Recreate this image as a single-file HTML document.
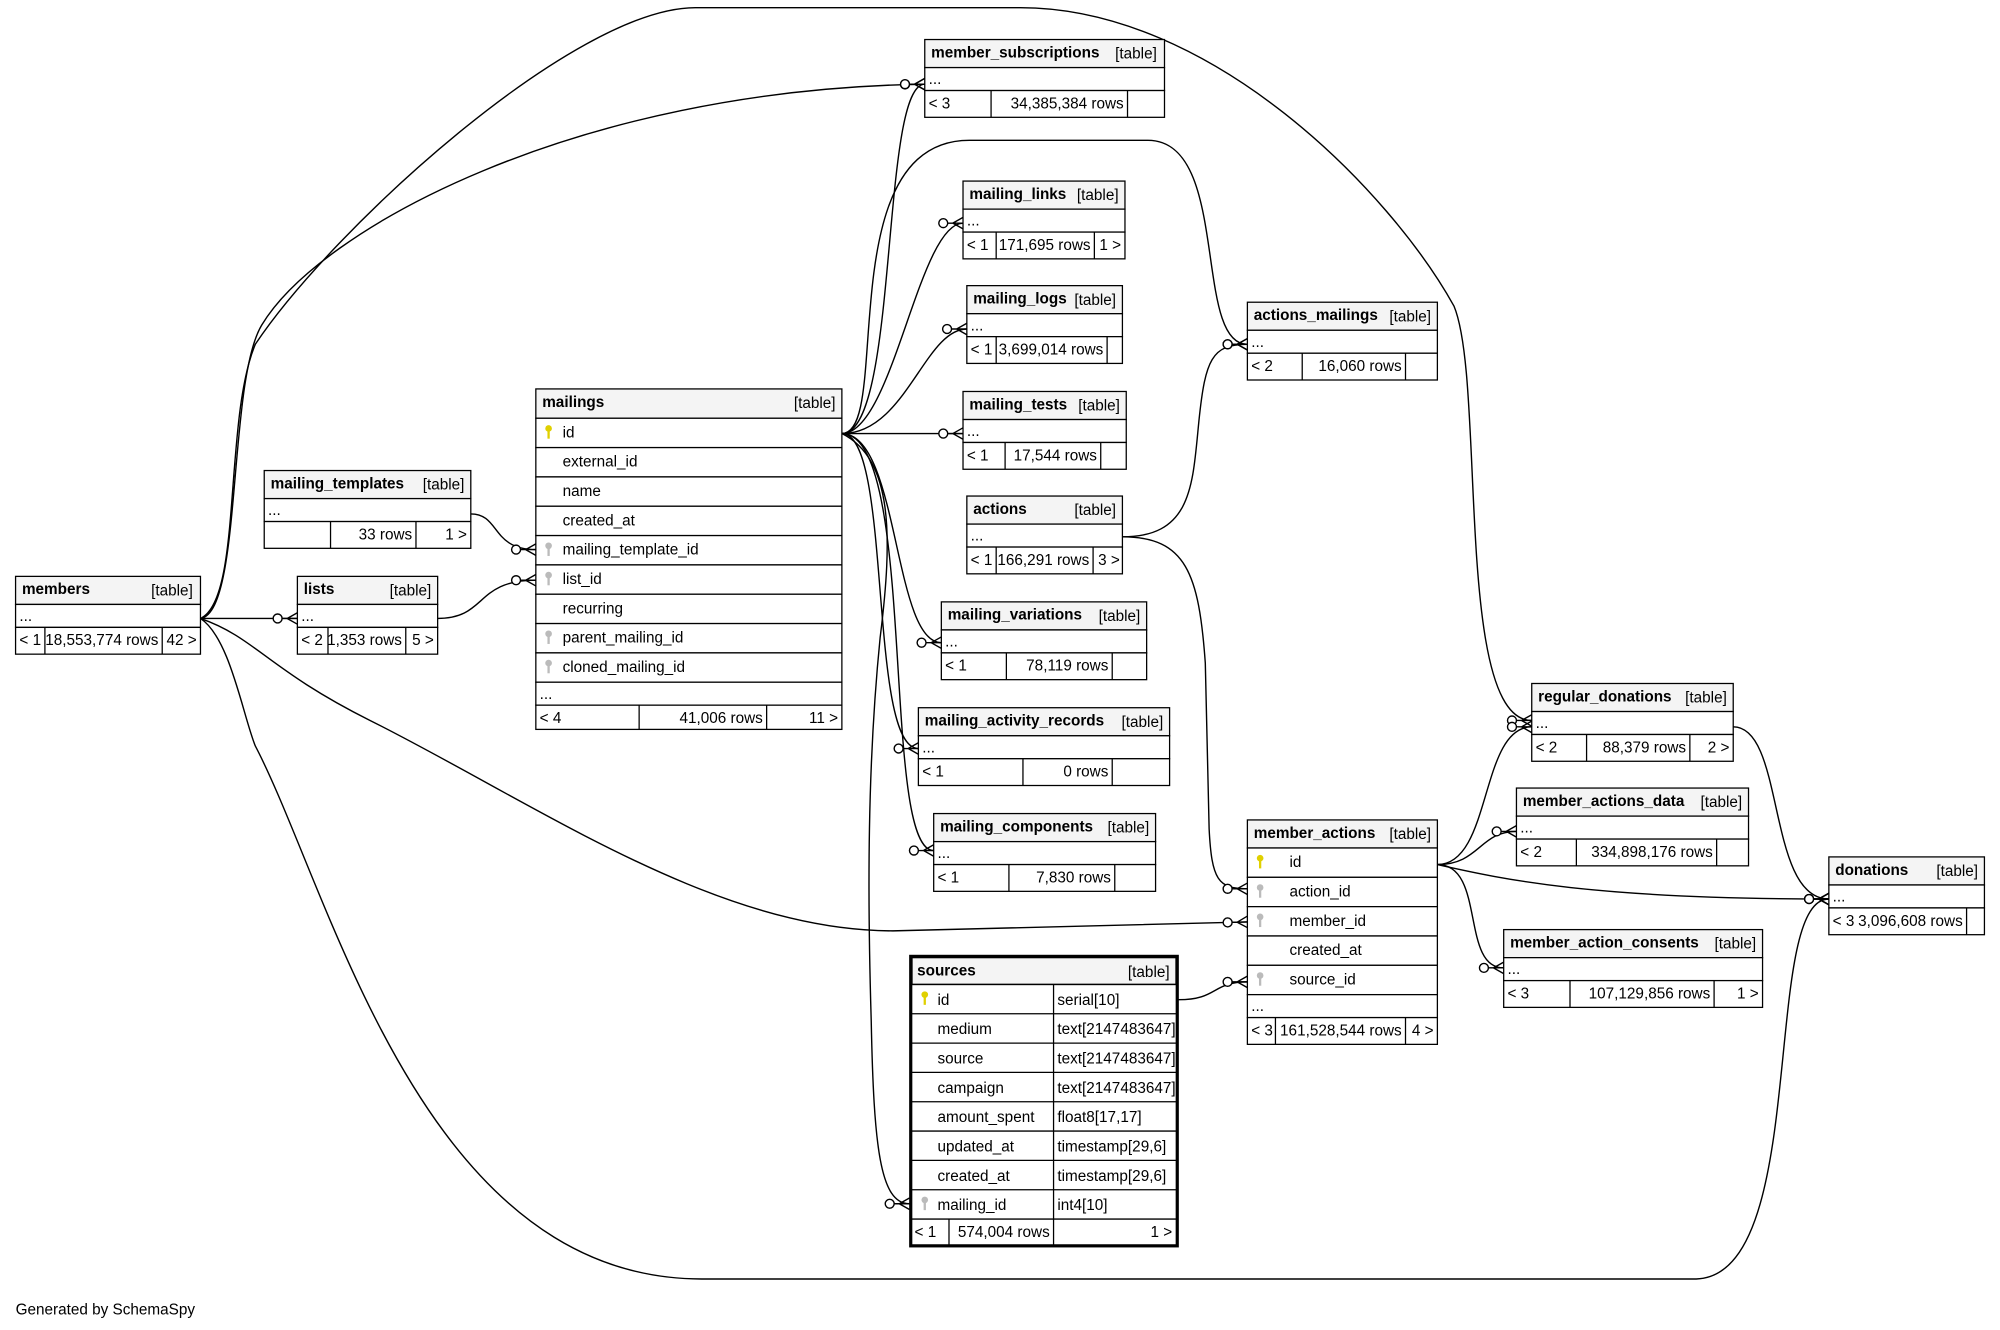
<!DOCTYPE html>
<html><head><meta charset="utf-8"><style>
html,body{margin:0;padding:0;background:#fff}
svg{display:block}
text{font-family:"Liberation Sans",sans-serif;font-size:12px;fill:#000}
.b{font-weight:bold}
.t{fill:#fff;stroke:#000;stroke-width:1}
.h{fill:#f4f4f4;stroke:#000;stroke-width:1}
.e{fill:none;stroke:#000;stroke-width:1.1}
</style></head><body>
<svg width="2000" height="1330" viewBox="0 0 1568 1043" xmlns="http://www.w3.org/2000/svg">
<defs>
<marker id="cf" markerUnits="userSpaceOnUse" markerWidth="24" markerHeight="14" refX="20" refY="7" orient="auto" overflow="visible">
<path d="M8,7 L20,7 M12,7 L20,2.5 M12,7 L20,11.5" fill="none" stroke="#000" stroke-width="1.1"/>
<circle cx="4.5" cy="7" r="3.5" fill="#fff" stroke="#000" stroke-width="1.1"/>
</marker>
<g id="pk"><circle cx="0" cy="0" r="2.6" fill="#e0d000"/><rect x="-0.9" y="0" width="1.8" height="8" fill="#e0d000"/></g>
<g id="fk"><circle cx="0" cy="0" r="2.6" fill="#bbb"/><rect x="-0.9" y="0" width="1.8" height="8" fill="#bbb"/></g>
</defs>

<!-- edges -->
<g class="e">
<path d="M157,485 C190,480 178,300 205,255 C250,180 450,70 725,66" marker-end="url(#cf)"/>
<path d="M157,485 C190,470 175,330 200,270 C260,180 450,6 545,6 L800,6 C950,6 1090,150 1140,240 C1165,300 1140,565 1201,565" marker-end="url(#cf)"/>
<path d="M157,485 L233,485" marker-end="url(#cf)"/>
<path d="M157,485 C200,500 210,525 290,565 C420,630 560,730 700,730 L978,723" marker-end="url(#cf)"/>
<path d="M157,485 C180,500 190,560 200,585 C260,700 330,1003 550,1003 L1330,1003 C1420,1000 1380,705 1434,705" marker-end="url(#cf)"/>
<path d="M369,403 C392,403 385,431 420,431" marker-end="url(#cf)"/>
<path d="M343,485 C382,485 372,455 420,455" marker-end="url(#cf)"/>
<path d="M660,340 C705,340 690,66 725,66" marker-end="url(#cf)"/>
<path d="M660,340 C700,340 720,175 755,175" marker-end="url(#cf)"/>
<path d="M660,340 C710,340 725,258 758,258" marker-end="url(#cf)"/>
<path d="M660,340 L755,340" marker-end="url(#cf)"/>
<path d="M660,340 C705,340 700,504 738,504" marker-end="url(#cf)"/>
<path d="M660,340 C700,340 680,587 720,587" marker-end="url(#cf)"/>
<path d="M660,340 C720,340 690,667 732,667" marker-end="url(#cf)"/>
<path d="M660,340 C700,360 700,420 690,500 C680,600 680,700 683,800 C685,900 690,944 713,944" marker-end="url(#cf)"/>
<path d="M660,340 C700,340 650,110 760,110 L900,110 C965,110 935,270 978,270" marker-end="url(#cf)"/>
<path d="M880,421 C935,421 935,380 940,330 C945,282 950,270 978,270" marker-end="url(#cf)"/>
<path d="M880,421 C930,421 940,450 945,520 L948,650 C950,690 955,697 978,697" marker-end="url(#cf)"/>
<path d="M924,784 C955,784 950,770 978,770" marker-end="url(#cf)"/>
<path d="M1127,678 C1170,678 1160,570 1201,570" marker-end="url(#cf)"/>
<path d="M1127,678 C1160,678 1160,652 1189,652" marker-end="url(#cf)"/>
<path d="M1127,678 C1165,678 1145,759 1179,759" marker-end="url(#cf)"/>
<path d="M1127,678 C1180,690 1250,705 1434,705" marker-end="url(#cf)"/>
<path d="M1359,570 C1400,570 1385,705 1434,705" marker-end="url(#cf)"/>
</g>

<!-- generic small tables -->
<!-- member_subscriptions -->
<g><rect class="h" x="725" y="31" width="188" height="22"/><rect class="t" x="725" y="53" width="188" height="18"/><rect class="t" x="725" y="71" width="188" height="21"/>
<line x1="777" y1="71" x2="777" y2="92" stroke="#000"/><line x1="884" y1="71" x2="884" y2="92" stroke="#000"/>
<text x="730" y="45" class="b">member_subscriptions</text><text x="907" y="46" text-anchor="end">[table]</text><text x="728" y="66">...</text>
<text x="728" y="85">&lt; 3</text><text x="881" y="85" text-anchor="end">34,385,384 rows</text></g>
<!-- mailing_links -->
<g><rect class="h" x="755" y="142" width="127" height="22"/><rect class="t" x="755" y="164" width="127" height="18"/><rect class="t" x="755" y="182" width="127" height="21"/>
<line x1="781" y1="182" x2="781" y2="203" stroke="#000"/><line x1="858" y1="182" x2="858" y2="203" stroke="#000"/>
<text x="760" y="156" class="b">mailing_links</text><text x="877" y="157" text-anchor="end">[table]</text><text x="758" y="177">...</text>
<text x="758" y="196">&lt; 1</text><text x="855" y="196" text-anchor="end">171,695 rows</text><text x="879" y="196" text-anchor="end">1 &gt;</text></g>
<!-- mailing_logs -->
<g><rect class="h" x="758" y="224" width="122" height="22"/><rect class="t" x="758" y="246" width="122" height="18"/><rect class="t" x="758" y="264" width="122" height="21"/>
<line x1="781" y1="264" x2="781" y2="285" stroke="#000"/><line x1="868" y1="264" x2="868" y2="285" stroke="#000"/>
<text x="763" y="238" class="b">mailing_logs</text><text x="875" y="239" text-anchor="end">[table]</text><text x="761" y="259">...</text>
<text x="761" y="278">&lt; 1</text><text x="865" y="278" text-anchor="end">3,699,014 rows</text></g>
<!-- mailing_tests -->
<g><rect class="h" x="755" y="307" width="128" height="22"/><rect class="t" x="755" y="329" width="128" height="18"/><rect class="t" x="755" y="347" width="128" height="21"/>
<line x1="788" y1="347" x2="788" y2="368" stroke="#000"/><line x1="863" y1="347" x2="863" y2="368" stroke="#000"/>
<text x="760" y="321" class="b">mailing_tests</text><text x="878" y="322" text-anchor="end">[table]</text><text x="758" y="342">...</text>
<text x="758" y="361">&lt; 1</text><text x="860" y="361" text-anchor="end">17,544 rows</text></g>
<!-- actions -->
<g><rect class="h" x="758" y="389" width="122" height="22"/><rect class="t" x="758" y="411" width="122" height="18"/><rect class="t" x="758" y="429" width="122" height="21"/>
<line x1="781" y1="429" x2="781" y2="450" stroke="#000"/><line x1="857" y1="429" x2="857" y2="450" stroke="#000"/>
<text x="763" y="403" class="b">actions</text><text x="875" y="404" text-anchor="end">[table]</text><text x="761" y="424">...</text>
<text x="761" y="443">&lt; 1</text><text x="854" y="443" text-anchor="end">166,291 rows</text><text x="878" y="443" text-anchor="end">3 &gt;</text></g>
<!-- mailing_variations -->
<g><rect class="h" x="738" y="472" width="161" height="22"/><rect class="t" x="738" y="494" width="161" height="18"/><rect class="t" x="738" y="512" width="161" height="21"/>
<line x1="789" y1="512" x2="789" y2="533" stroke="#000"/><line x1="872" y1="512" x2="872" y2="533" stroke="#000"/>
<text x="743" y="486" class="b">mailing_variations</text><text x="894" y="487" text-anchor="end">[table]</text><text x="741" y="507">...</text>
<text x="741" y="526">&lt; 1</text><text x="869" y="526" text-anchor="end">78,119 rows</text></g>
<!-- mailing_activity_records -->
<g><rect class="h" x="720" y="555" width="197" height="22"/><rect class="t" x="720" y="577" width="197" height="18"/><rect class="t" x="720" y="595" width="197" height="21"/>
<line x1="802" y1="595" x2="802" y2="616" stroke="#000"/><line x1="872" y1="595" x2="872" y2="616" stroke="#000"/>
<text x="725" y="569" class="b">mailing_activity_records</text><text x="912" y="570" text-anchor="end">[table]</text><text x="723" y="590">...</text>
<text x="723" y="609">&lt; 1</text><text x="869" y="609" text-anchor="end">0 rows</text></g>
<!-- mailing_components -->
<g><rect class="h" x="732" y="638" width="174" height="22"/><rect class="t" x="732" y="660" width="174" height="18"/><rect class="t" x="732" y="678" width="174" height="21"/>
<line x1="791" y1="678" x2="791" y2="699" stroke="#000"/><line x1="874" y1="678" x2="874" y2="699" stroke="#000"/>
<text x="737" y="652" class="b">mailing_components</text><text x="901" y="653" text-anchor="end">[table]</text><text x="735" y="673">...</text>
<text x="735" y="692">&lt; 1</text><text x="871" y="692" text-anchor="end">7,830 rows</text></g>
<!-- actions_mailings -->
<g><rect class="h" x="978" y="237" width="149" height="22"/><rect class="t" x="978" y="259" width="149" height="18"/><rect class="t" x="978" y="277" width="149" height="21"/>
<line x1="1021" y1="277" x2="1021" y2="298" stroke="#000"/><line x1="1102" y1="277" x2="1102" y2="298" stroke="#000"/>
<text x="983" y="251" class="b">actions_mailings</text><text x="1122" y="252" text-anchor="end">[table]</text><text x="981" y="272">...</text>
<text x="981" y="291">&lt; 2</text><text x="1099" y="291" text-anchor="end">16,060 rows</text></g>
<!-- regular_donations -->
<g><rect class="h" x="1201" y="536" width="158" height="22"/><rect class="t" x="1201" y="558" width="158" height="18"/><rect class="t" x="1201" y="576" width="158" height="21"/>
<line x1="1244" y1="576" x2="1244" y2="597" stroke="#000"/><line x1="1325" y1="576" x2="1325" y2="597" stroke="#000"/>
<text x="1206" y="550" class="b">regular_donations</text><text x="1354" y="551" text-anchor="end">[table]</text><text x="1204" y="571">...</text>
<text x="1204" y="590">&lt; 2</text><text x="1322" y="590" text-anchor="end">88,379 rows</text><text x="1356" y="590" text-anchor="end">2 &gt;</text></g>
<!-- member_actions_data -->
<g><rect class="h" x="1189" y="618" width="182" height="22"/><rect class="t" x="1189" y="640" width="182" height="18"/><rect class="t" x="1189" y="658" width="182" height="21"/>
<line x1="1236" y1="658" x2="1236" y2="679" stroke="#000"/><line x1="1346" y1="658" x2="1346" y2="679" stroke="#000"/>
<text x="1194" y="632" class="b">member_actions_data</text><text x="1366" y="633" text-anchor="end">[table]</text><text x="1192" y="653">...</text>
<text x="1192" y="672">&lt; 2</text><text x="1343" y="672" text-anchor="end">334,898,176 rows</text></g>
<!-- member_action_consents -->
<g><rect class="h" x="1179" y="729" width="203" height="22"/><rect class="t" x="1179" y="751" width="203" height="18"/><rect class="t" x="1179" y="769" width="203" height="21"/>
<line x1="1231" y1="769" x2="1231" y2="790" stroke="#000"/><line x1="1344" y1="769" x2="1344" y2="790" stroke="#000"/>
<text x="1184" y="743" class="b">member_action_consents</text><text x="1377" y="744" text-anchor="end">[table]</text><text x="1182" y="764">...</text>
<text x="1182" y="783">&lt; 3</text><text x="1341" y="783" text-anchor="end">107,129,856 rows</text><text x="1379" y="783" text-anchor="end">1 &gt;</text></g>
<!-- donations -->
<g><rect class="h" x="1434" y="672" width="122" height="22"/><rect class="t" x="1434" y="694" width="122" height="18"/><rect class="t" x="1434" y="712" width="122" height="21"/>
<line x1="1542" y1="712" x2="1542" y2="733" stroke="#000"/>
<text x="1439" y="686" class="b">donations</text><text x="1551" y="687" text-anchor="end">[table]</text><text x="1437" y="707">...</text>
<text x="1437" y="726">&lt; 3</text><text x="1539" y="726" text-anchor="end">3,096,608 rows</text></g>
<!-- members -->
<g><rect class="h" x="12" y="452" width="145" height="22"/><rect class="t" x="12" y="474" width="145" height="18"/><rect class="t" x="12" y="492" width="145" height="21"/>
<line x1="35" y1="492" x2="35" y2="513" stroke="#000"/><line x1="127" y1="492" x2="127" y2="513" stroke="#000"/>
<text x="17" y="466" class="b">members</text><text x="151" y="467" text-anchor="end">[table]</text><text x="15" y="487">...</text>
<text x="15" y="506">&lt; 1</text><text x="124" y="506" text-anchor="end">18,553,774 rows</text><text x="154" y="506" text-anchor="end">42 &gt;</text></g>
<!-- lists -->
<g><rect class="h" x="233" y="452" width="110" height="22"/><rect class="t" x="233" y="474" width="110" height="18"/><rect class="t" x="233" y="492" width="110" height="21"/>
<line x1="257" y1="492" x2="257" y2="513" stroke="#000"/><line x1="318" y1="492" x2="318" y2="513" stroke="#000"/>
<text x="238" y="466" class="b">lists</text><text x="338" y="467" text-anchor="end">[table]</text><text x="236" y="487">...</text>
<text x="236" y="506">&lt; 2</text><text x="315" y="506" text-anchor="end">1,353 rows</text><text x="340" y="506" text-anchor="end">5 &gt;</text></g>
<!-- mailing_templates -->
<g><rect class="h" x="207" y="369" width="162" height="22"/><rect class="t" x="207" y="391" width="162" height="18"/><rect class="t" x="207" y="409" width="162" height="21"/>
<line x1="259" y1="409" x2="259" y2="430" stroke="#000"/><line x1="326" y1="409" x2="326" y2="430" stroke="#000"/>
<text x="212" y="383" class="b">mailing_templates</text><text x="364" y="384" text-anchor="end">[table]</text><text x="210" y="404">...</text>
<text x="323" y="423" text-anchor="end">33 rows</text><text x="366" y="423" text-anchor="end">1 &gt;</text></g>

<!-- mailings -->
<g>
<rect class="h" x="420" y="305" width="240" height="23"/>
<rect class="t" x="420" y="328" width="240" height="23"/><rect class="t" x="420" y="351" width="240" height="23"/>
<rect class="t" x="420" y="374" width="240" height="23"/><rect class="t" x="420" y="397" width="240" height="23"/>
<rect class="t" x="420" y="420" width="240" height="23"/><rect class="t" x="420" y="443" width="240" height="23"/>
<rect class="t" x="420" y="466" width="240" height="23"/><rect class="t" x="420" y="489" width="240" height="23"/>
<rect class="t" x="420" y="512" width="240" height="23"/><rect class="t" x="420" y="535" width="240" height="18"/>
<rect class="t" x="420" y="553" width="240" height="19"/>
<line x1="501" y1="553" x2="501" y2="572" stroke="#000"/><line x1="601" y1="553" x2="601" y2="572" stroke="#000"/>
<text x="425" y="319" class="b">mailings</text><text x="655" y="320" text-anchor="end">[table]</text>
<use href="#pk" x="430" y="336"/><text x="441" y="343">id</text>
<text x="441" y="366">external_id</text><text x="441" y="389">name</text><text x="441" y="412">created_at</text>
<use href="#fk" x="430" y="428"/><text x="441" y="435">mailing_template_id</text>
<use href="#fk" x="430" y="451"/><text x="441" y="458">list_id</text>
<text x="441" y="481">recurring</text>
<use href="#fk" x="430" y="497"/><text x="441" y="504">parent_mailing_id</text>
<use href="#fk" x="430" y="520"/><text x="441" y="527">cloned_mailing_id</text>
<text x="423" y="548">...</text>
<text x="423" y="567">&lt; 4</text><text x="598" y="567" text-anchor="end">41,006 rows</text><text x="657" y="567" text-anchor="end">11 &gt;</text>
</g>

<!-- member_actions -->
<g>
<rect class="h" x="978" y="643" width="149" height="22"/>
<rect class="t" x="978" y="665" width="149" height="23"/><rect class="t" x="978" y="688" width="149" height="23"/>
<rect class="t" x="978" y="711" width="149" height="23"/><rect class="t" x="978" y="734" width="149" height="23"/>
<rect class="t" x="978" y="757" width="149" height="23"/><rect class="t" x="978" y="780" width="149" height="18"/>
<rect class="t" x="978" y="798" width="149" height="21"/>
<line x1="1000" y1="798" x2="1000" y2="819" stroke="#000"/><line x1="1102" y1="798" x2="1102" y2="819" stroke="#000"/>
<text x="983" y="657" class="b">member_actions</text><text x="1122" y="658" text-anchor="end">[table]</text>
<use href="#pk" x="988" y="673"/><text x="1011" y="680">id</text>
<use href="#fk" x="988" y="696"/><text x="1011" y="703">action_id</text>
<use href="#fk" x="988" y="719"/><text x="1011" y="726">member_id</text>
<text x="1011" y="749">created_at</text>
<use href="#fk" x="988" y="765"/><text x="1011" y="772">source_id</text>
<text x="981" y="793">...</text>
<text x="981" y="812">&lt; 3</text><text x="1099" y="812" text-anchor="end">161,528,544 rows</text><text x="1124" y="812" text-anchor="end">4 &gt;</text>
</g>

<!-- sources -->
<g>
<rect class="h" x="715" y="751" width="207" height="21" stroke-width="0"/>
<g stroke="#000" fill="none">
<line x1="715" y1="772" x2="922" y2="772"/><line x1="715" y1="795" x2="922" y2="795"/><line x1="715" y1="818" x2="922" y2="818"/>
<line x1="715" y1="841" x2="922" y2="841"/><line x1="715" y1="864" x2="922" y2="864"/><line x1="715" y1="887" x2="922" y2="887"/>
<line x1="715" y1="910" x2="922" y2="910"/><line x1="715" y1="933" x2="922" y2="933"/><line x1="715" y1="956" x2="922" y2="956"/>
<line x1="826" y1="772" x2="826" y2="977"/><line x1="744" y1="956" x2="744" y2="977"/>
<rect x="714" y="750" width="209" height="227" stroke-width="2.5"/>
</g>
<text x="719" y="765" class="b">sources</text><text x="917" y="766" text-anchor="end">[table]</text>
<use href="#pk" x="725" y="780"/><text x="735" y="788">id</text><text x="829" y="788">serial[10]</text>
<text x="735" y="811">medium</text><text x="829" y="811">text[2147483647]</text>
<text x="735" y="834">source</text><text x="829" y="834">text[2147483647]</text>
<text x="735" y="857">campaign</text><text x="829" y="857">text[2147483647]</text>
<text x="735" y="880">amount_spent</text><text x="829" y="880">float8[17,17]</text>
<text x="735" y="903">updated_at</text><text x="829" y="903">timestamp[29,6]</text>
<text x="735" y="926">created_at</text><text x="829" y="926">timestamp[29,6]</text>
<use href="#fk" x="725" y="941"/><text x="735" y="949">mailing_id</text><text x="829" y="949">int4[10]</text>
<text x="717" y="970">&lt; 1</text><text x="823" y="970" text-anchor="end">574,004 rows</text><text x="919" y="970" text-anchor="end">1 &gt;</text>
</g>

<text x="12" y="1031">Generated by SchemaSpy</text>
</svg>
</body></html>
